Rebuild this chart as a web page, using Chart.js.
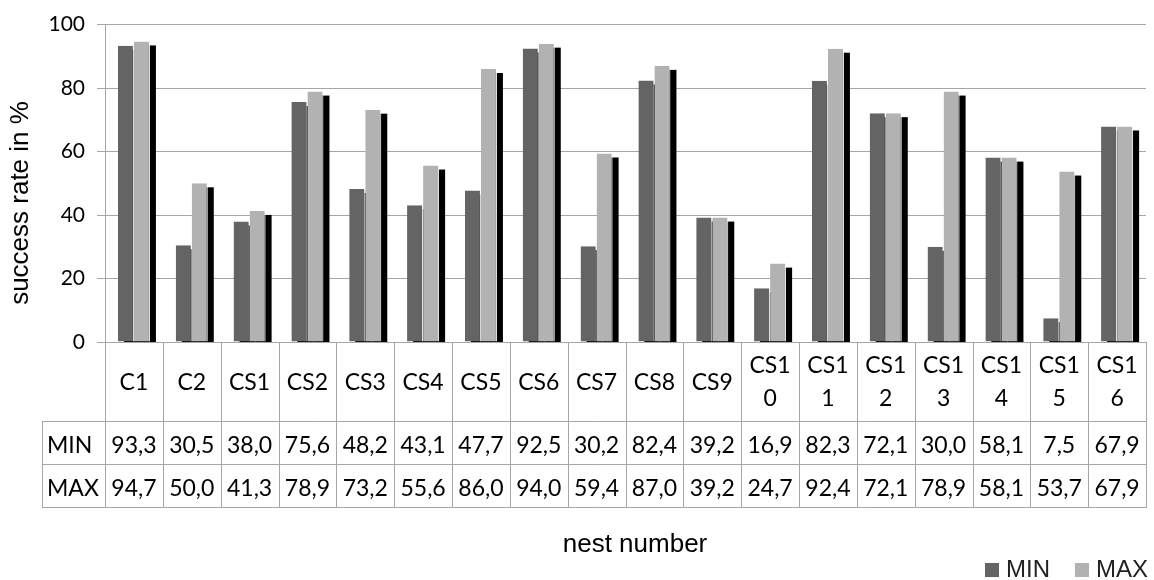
<!DOCTYPE html>
<html>
<head>
<meta charset="utf-8">
<script src="https://cdn.jsdelivr.net/npm/chart.js@4/dist/chart.umd.min.js"></script>
<style>
  html, body { margin: 0; padding: 0; background: #fff; }
</style>
</head>
<body>
<canvas id="nestChart" width="1154" height="580"></canvas>
<script>
// data
const nests = ["C1", "C2", "CS1", "CS2", "CS3", "CS4", "CS5", "CS6", "CS7", "CS8", "CS9",
    "CS10", "CS11", "CS12", "CS13", "CS14", "CS15", "CS16"];
const minValues = [93.3, 30.5, 38.0, 75.6, 48.2, 43.1, 47.7, 92.5, 30.2, 82.4, 39.2, 16.9, 82.3, 72.1, 30.0, 58.1, 7.5, 67.9];
const maxValues = [94.7, 50.0, 41.3, 78.9, 73.2, 55.6, 86.0, 94.0, 59.4, 87.0, 39.2, 24.7, 92.4, 72.1, 78.9, 58.1, 53.7, 67.9];
const seriesNames = ["MIN", "MAX"];
const yTicks = [0, 20, 40, 60, 80, 100];

const GRID = '#a6a6a6';
const TABLE_FONT = '23px Lato';
const ARIAL = '"Liberation Sans", Arial, sans-serif';

Chart.defaults.font.family = 'Lato';

// black drop shadow behind every bar (Excel style)
const barShadow = {
    id: 'barShadow',
    beforeDatasetsDraw(chart) {
        const { ctx, chartArea: a } = chart;
        ctx.save();
        ctx.beginPath();
        ctx.rect(a.left, a.top, a.right - a.left, a.bottom - a.top);
        ctx.clip();
        ctx.fillStyle = '#000';
        chart.data.datasets.forEach((ds, i) => {
            chart.getDatasetMeta(i).data.forEach(bar => {
                ctx.fillRect(bar.x - bar.width / 2 + 6, bar.y + 4, bar.width, bar.base - bar.y);
            });
        });
        ctx.restore();
    }
};

// data table under the plot + axis titles + legend
const dataTable = {
    id: 'dataTable',
    afterDraw(chart) {
        const { ctx, scales: { x } } = chart;
        const n = chart.data.labels.length;
        const colW = x.getPixelForValue(1) - x.getPixelForValue(0);
        const left = x.getPixelForValue(0) - colW / 2;
        const top = chart.chartArea.bottom;
        const rowTop = top + 79, rowMid = rowTop + 43, rowBot = rowMid + 43;
        const labelLeft = 42;
        const right = left + n * colW;

        ctx.save();
        ctx.strokeStyle = GRID;
        ctx.lineWidth = 1;
        ctx.beginPath();
        [rowTop, rowMid, rowBot].forEach(y => {
            ctx.moveTo(labelLeft, y + 0.5);
            ctx.lineTo(right + 1, y + 0.5);
        });
        for (let i = 0; i <= n; i++) {
            const xx = Math.round(left + i * colW) + 0.5;
            ctx.moveTo(xx, top);
            ctx.lineTo(xx, rowBot);
        }
        ctx.moveTo(labelLeft + 0.5, rowTop);
        ctx.lineTo(labelLeft + 0.5, rowBot);
        ctx.stroke();

        ctx.fillStyle = '#000';
        ctx.font = TABLE_FONT;
        ctx.textBaseline = 'middle';
        ctx.textAlign = 'center';

        // category names wrap after 3 chars like in the source
        chart.data.labels.forEach((lab, i) => {
            const cx = x.getPixelForValue(i);
            const lines = lab.length > 3 ? [lab.slice(0, 3), lab.slice(3)] : [lab];
            const cy = (top + rowTop) / 2 + 1;
            lines.forEach((t, k) => ctx.fillText(t, cx, cy + (k - (lines.length - 1) / 2) * 33));
        });

        chart.data.datasets.forEach((ds, r) => {
            const cy = r === 0 ? (rowTop + rowMid) / 2 + 3 : (rowMid + rowBot) / 2 + 3;
            ctx.textAlign = 'left';
            ctx.fillText(ds.label, labelLeft + 5, cy);
            ctx.textAlign = 'center';
            ds.data.forEach((v, i) => ctx.fillText(v.toFixed(1).replace('.', ','), x.getPixelForValue(i), cy));
        });

        // axis titles
        ctx.font = '26px ' + ARIAL;
        ctx.fillText('nest number', 635, 545);
        ctx.save();
        ctx.translate(21, 203);
        ctx.rotate(-Math.PI / 2);
        ctx.fillText('success rate in %', 0, 0);
        ctx.restore();

        // legend
        ctx.font = '24px ' + ARIAL;
        ctx.textAlign = 'left';
        let lx = 985;
        const ly = 570;
        chart.data.datasets.forEach(ds => {
            ctx.fillStyle = ds.backgroundColor;
            ctx.fillRect(lx, ly - 7, 14, 14);
            ctx.fillStyle = '#222';
            ctx.fillText(ds.label, lx + 21, ly);
            lx += 21 + ctx.measureText(ds.label).width + 25;
        });
        ctx.restore();
    }
};

const ctx = document.getElementById('nestChart').getContext('2d');

new Chart(ctx, {
    type: 'bar',
    plugins: [barShadow, dataTable],
    data: {
        labels: nests,
        datasets: [
            {
                label: seriesNames[0],
                data: minValues,
                backgroundColor: '#646464',
                borderColor: '#ffffff',
                borderWidth: { right: 1 }
            },
            {
                label: seriesNames[1],
                data: maxValues,
                backgroundColor: '#b2b2b2',
                borderColor: '#ffffff',
                borderWidth: { right: 1 }
            }
        ]
    },
    options: {
        responsive: false,
        animation: false,
        devicePixelRatio: 1,
        layout: { padding: { top: 23, right: 8, left: 0, bottom: 0 } },
        datasets: {
            bar: { categoryPercentage: 0.554, barPercentage: 1 }
        },
        plugins: {
            legend: { display: false },
            tooltip: { enabled: false }
        },
        scales: {
            x: {
                ticks: { display: false },
                grid: { display: false },
                border: { display: false },
                afterFit(scale) { scale.height = 238; }
            },
            y: {
                min: 0,
                max: 100,
                afterBuildTicks(scale) { scale.ticks = yTicks.map(v => ({ value: v })); },
                ticks: { color: '#000', font: { size: 21 }, padding: 12 },
                grid: { color: GRID, tickLength: 8 },
                border: { color: GRID },
                afterFit(scale) { scale.width = 105; }
            }
        }
    }
});
</script>
</body>
</html>
